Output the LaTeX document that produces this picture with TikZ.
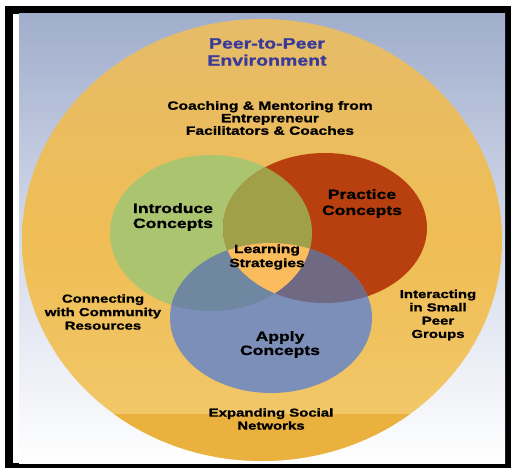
\documentclass[tikz,border=0pt]{standalone}
\usepackage{fontspec}
\setmainfont{Liberation Sans}[FakeStretch=1.3, BoldFeatures={FakeBold=1.2}]
\definecolor{bgtop}{RGB}{160,174,204}
\definecolor{bgmid}{RGB}{212,218,234}
\definecolor{orangeA}{RGB}{239,189,84}
\definecolor{orangeTop}{RGB}{230,188,105}
\definecolor{orangeLight}{RGB}{242,202,110}
\definecolor{orangeDark}{RGB}{234,177,62}
\definecolor{greenC}{RGB}{170,196,112}
\definecolor{redC}{RGB}{184,64,14}
\definecolor{blueC}{RGB}{123,143,185}
\definecolor{olive}{RGB}{160,160,72}
\definecolor{gbC}{RGB}{112,135,162}
\definecolor{rbC}{RGB}{111,105,131}
\definecolor{centerC}{RGB}{250,188,92}
\definecolor{titleC}{RGB}{58,58,155}
\begin{document}
\begin{tikzpicture}[x=1pt,y=-1pt,
  txt/.style={font=\bfseries\fontsize{11.5}{13.3}\selectfont, align=center, inner sep=0pt, text=black},
  big/.style={font=\bfseries\fontsize{13.5}{15}\selectfont, align=center, inner sep=0pt, text=black}]
\useasboundingbox (0,0) rectangle (511,468);
\fill[white] (0,0) rectangle (511,468);
% frame
\fill[black] (5,6) rectangle (511,468);
\fill[white] (13,14) rectangle (505,463);
\shade[top color=bgtop, bottom color=white, middle color=bgmid] (19,14) rectangle (505,463);
% outer ellipse
\begin{scope}
  \clip (19,14) rectangle (505,463);
  \shade[top color=orangeTop, bottom color=orangeLight, middle color=orangeA] (262,240) ellipse [x radius=240pt, y radius=221pt];
  \clip (262,240) ellipse [x radius=240pt, y radius=221pt];
  \fill[orangeDark] (19,414) rectangle (505,463);
\end{scope}
% venn
\fill[greenC] (211,233) ellipse [x radius=101pt, y radius=78pt];
\fill[redC] (325,228) ellipse [x radius=102pt, y radius=75pt];
\fill[blueC] (271,318) ellipse [x radius=101pt, y radius=75pt];
\begin{scope}
  \clip (211,233) ellipse [x radius=101pt, y radius=78pt];
  \fill[olive] (325,228) ellipse [x radius=102pt, y radius=75pt];
  \fill[gbC] (271,318) ellipse [x radius=101pt, y radius=75pt];
  \clip (325,228) ellipse [x radius=102pt, y radius=75pt];
  \fill[centerC] (271,318) ellipse [x radius=101pt, y radius=75pt];
\end{scope}
\begin{scope}
  \clip (325,228) ellipse [x radius=102pt, y radius=75pt];
  \clip (271,318) ellipse [x radius=101pt, y radius=75pt];
  \fill[rbC] (211,233) ellipse [x radius=101pt, y radius=78pt] [even odd rule] (0,0) rectangle (511,468);
\end{scope}
% texts
\node[inner sep=0pt, align=center, text=titleC, font=\bfseries\fontsize{15}{17}\selectfont] (title) at (267,52) {Peer-to-Peer\\Environment};
\node[txt, font=\bfseries\fontsize{12}{12.5}\selectfont] (coach) at (270,118) {Coaching \& Mentoring from\\Entrepreneur\\Facilitators \& Coaches};
\node[big] (intro) at (173,217) {Introduce\\Concepts};
\node[big, font=\bfseries\fontsize{13.5}{16}\selectfont] (practice) at (362,203.5) {Practice\\Concepts};
\node[txt, font=\bfseries\fontsize{12}{14}\selectfont] (learn) at (267,257) {Learning\\Strategies};
\node[big, font=\bfseries\fontsize{13.5}{14}\selectfont] (apply) at (280,344.5) {Apply\\Concepts};
\node[txt, font=\bfseries\fontsize{11.5}{13.5}\selectfont] (connect) at (103,312) {Connecting\\with Community\\Resources};
\node[txt] (interact) at (438,315) {Interacting\\in Small\\Peer\\Groups};
\node[txt, font=\bfseries\fontsize{11.5}{13}\selectfont] (expand) at (271,419) {Expanding Social\\Networks};
\end{tikzpicture}
\end{document}
